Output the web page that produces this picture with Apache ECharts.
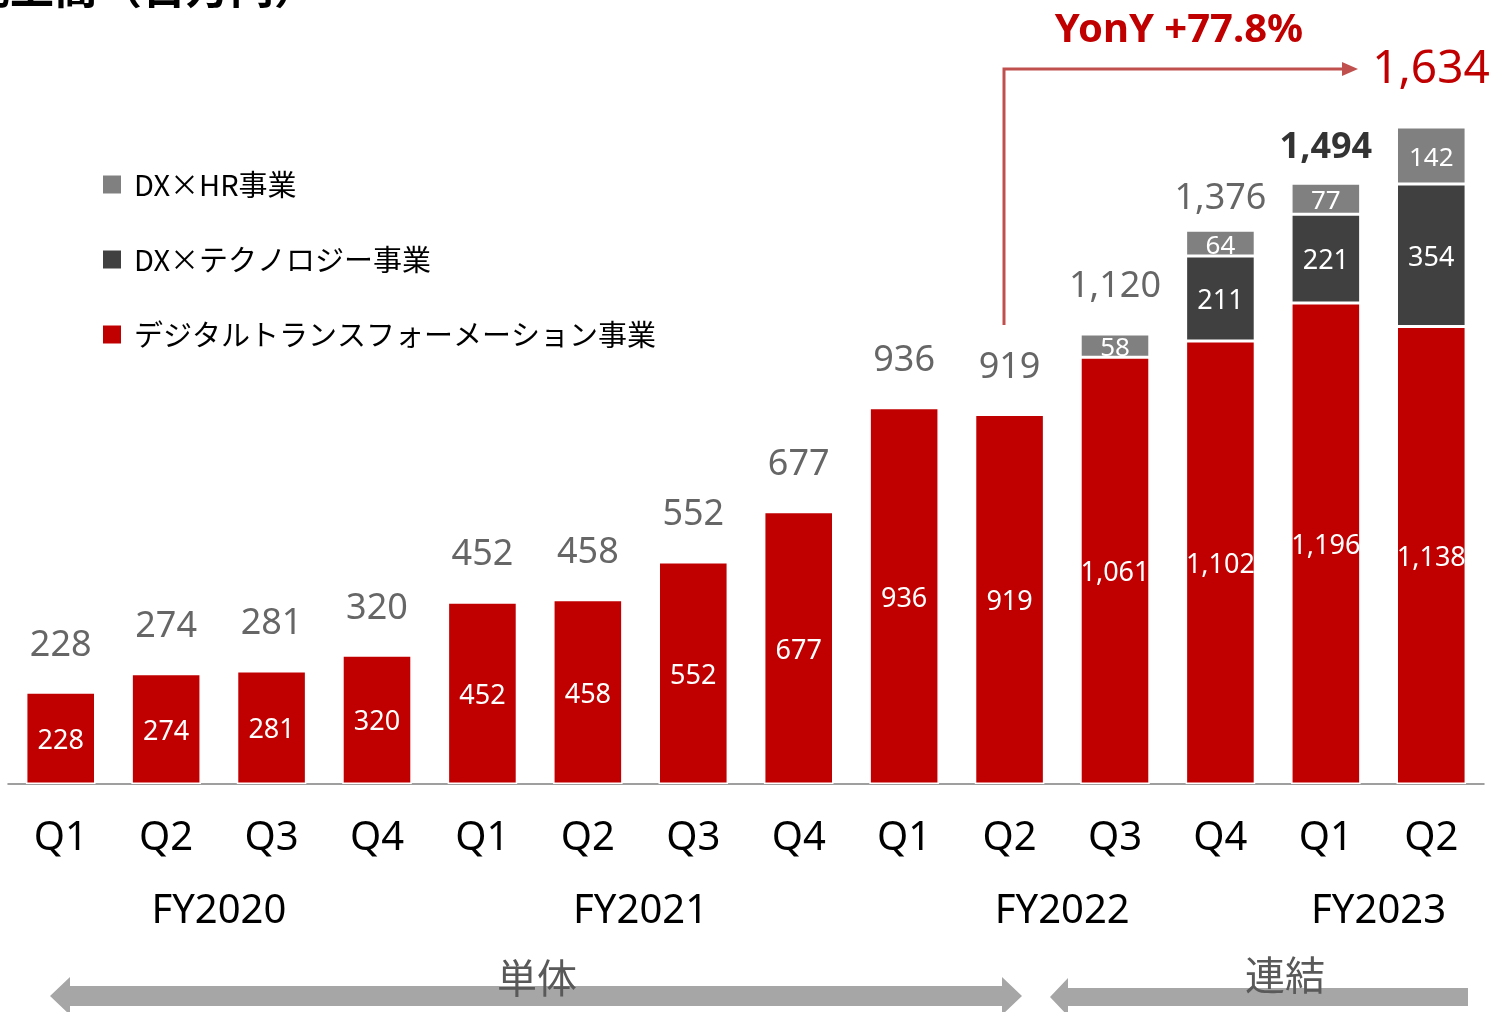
<!DOCTYPE html>
<html>
<head>
<meta charset="utf-8">
<script src="https://cdn.jsdelivr.net/npm/echarts@6/dist/echarts.min.js"></script>
<style>
  html, body { margin: 0; padding: 0; background: #fff; }
  #chart { width: 1491px; height: 1012px; }
</style>
</head>
<body>
<div id="chart"></div>
<script>
// 四半期ラベル
const quarters = ['Q1', 'Q2', 'Q3', 'Q4', 'Q1', 'Q2', 'Q3', 'Q4', 'Q1', 'Q2', 'Q3', 'Q4', 'Q1', 'Q2']

// 事業別売上（百万円）
const dtSales = [228, 274, 281, 320, 452, 458, 552, 677, 936, 919, 1061, 1102, 1196, 1138]
const techSales = [null, null, null, null, null, null, null, null, null, null, null, 211, 221, 354]
const hrSales = [null, null, null, null, null, null, null, null, null, null, 58, 64, 77, 142]
const totals = [228, 274, 281, 320, 452, 458, 552, 677, 936, 919, 1120, 1376, 1494, null]

// 年度グループ（カテゴリ index の範囲）
const fyLabels = ['FY2020', 'FY2021', 'FY2022', 'FY2023']
const fySpans = [[0, 3], [4, 7], [8, 11], [12, 13]]

const seriesNames = ['DX×HR事業', 'DX×テクノロジー事業', 'デジタルトランスフォーメーション事業']

const RED = '#C00000'
const FONT = "'Noto Sans', 'Noto Sans CJK JP', sans-serif"
const JP = "'Noto Sans CJK JP', 'Noto Sans', sans-serif"

const fmt = v => v.toLocaleString('en-US')

const chart = echarts.init(document.getElementById('chart'))

const innerLabel = size => ({
  show: true,
  position: 'inside',
  offset: [0, 3],
  color: '#fff',
  fontSize: size,
  fontFamily: FONT,
  formatter: p => fmt(p.value)
})

const option = {
  animation: false,
  legend: {
    orient: 'vertical',
    left: 101,
    top: 170,
    padding: 0,
    itemWidth: 20,
    itemHeight: 20,
    itemGap: 46,
    icon: 'rect',
    selectedMode: false,
    data: seriesNames,
    textStyle: { fontSize: 29, fontFamily: JP, color: '#000', padding: [0, 0, 0, 7] }
  },
  grid: { left: 8, right: 7, top: 20, bottom: 228 },
  xAxis: {
    type: 'category',
    data: quarters,
    axisLine: { lineStyle: { color: '#808080', width: 1.5 } },
    axisTick: { show: false },
    axisLabel: { color: '#000', fontSize: 40, fontFamily: FONT, margin: 35 }
  },
  yAxis: { type: 'value', min: 0, max: 1900, show: false },
  series: [
    {
      name: seriesNames[2],
      type: 'bar',
      stack: 'sales',
      barWidth: '66%',
      data: dtSales,
      itemStyle: { color: RED, borderColor: '#fff', borderWidth: 1.5 },
      label: innerLabel(27)
    },
    {
      name: seriesNames[1],
      type: 'bar',
      stack: 'sales',
      data: techSales,
      itemStyle: { color: '#404040', borderColor: '#fff', borderWidth: 1.5 },
      label: innerLabel(27)
    },
    {
      name: seriesNames[0],
      type: 'bar',
      stack: 'sales',
      data: hrSales,
      itemStyle: { color: '#808080', borderColor: '#fff', borderWidth: 1.5 },
      label: innerLabel(26)
    },
    {
      // 合計ラベル
      name: 'total',
      type: 'scatter',
      symbolSize: 0,
      data: totals.map((v, i) => {
        if (v == null) return null
        const item = { value: v }
        if (i === 11) item.label = { offset: [0, -32] }
        if (i === 12) item.label = { offset: [0, -36], color: '#000', fontWeight: 'bold' }
        return item
      }),
      label: {
        show: true,
        position: 'inside',
        offset: [0, -47],
        color: '#404040',
        fontSize: 36,
        fontFamily: FONT,
        formatter: p => fmt(p.value)
      }
    }
  ]
}

chart.setOption(option)

// 年度ラベル・注記
const px = i => chart.convertToPixel({ xAxisIndex: 0 }, i)
const fyTexts = fyLabels.map((t, k) => ({
  type: 'text',
  x: (px(fySpans[k][0]) + px(fySpans[k][1])) / 2,
  y: 912,
  style: { text: t, fontSize: 40, fontFamily: FONT, fill: '#000', align: 'center', verticalAlign: 'middle' }
}))

chart.setOption({
  graphic: [
    // 見出し（上端で切れている）
    {
      type: 'text', x: -34, y: 9,
      style: { text: '売上高（百万円）', fontSize: 44, fontWeight: 'bold', fontFamily: JP, fill: '#000', verticalAlign: 'bottom' }
    },
    ...fyTexts,
    // 単体 / 連結 の矢印
    {
      type: 'polygon',
      shape: { points: [[50, 996], [70, 977], [70, 986], [1002, 986], [1002, 977], [1022, 996], [1002, 1015], [1002, 1006], [70, 1006], [70, 1015]] },
      style: { fill: '#A6A6A6' }
    },
    {
      type: 'polygon',
      shape: { points: [[1050, 997], [1068, 978], [1068, 988], [1468, 988], [1468, 1006], [1068, 1006], [1068, 1016]] },
      style: { fill: '#A6A6A6' }
    },
    {
      type: 'text', x: 537, y: 978,
      style: { text: '単体', fontSize: 40, fontFamily: JP, fill: '#595959', align: 'center', verticalAlign: 'middle' }
    },
    {
      type: 'text', x: 1285, y: 975,
      style: { text: '連結', fontSize: 40, fontFamily: JP, fill: '#595959', align: 'center', verticalAlign: 'middle' }
    },
    // YonY 矢印
    {
      type: 'polyline',
      shape: { points: [[1004, 325], [1004, 69], [1345, 69]] },
      style: { stroke: '#C0504D', lineWidth: 3, fill: null }
    },
    {
      type: 'polygon',
      shape: { points: [[1342, 62], [1358, 69], [1342, 76]] },
      style: { fill: '#C0504D' }
    },
    {
      type: 'text', x: 1179, y: 31,
      style: { text: 'YonY +77.8%', fontSize: 40, fontWeight: 'bold', fontFamily: FONT, fill: RED, align: 'center', verticalAlign: 'middle' }
    },
    {
      type: 'text', x: 1431, y: 70,
      style: { text: '1,634', fontSize: 46, fontFamily: FONT, fill: RED, align: 'center', verticalAlign: 'middle' }
    }
  ]
})
</script>
</body>
</html>
